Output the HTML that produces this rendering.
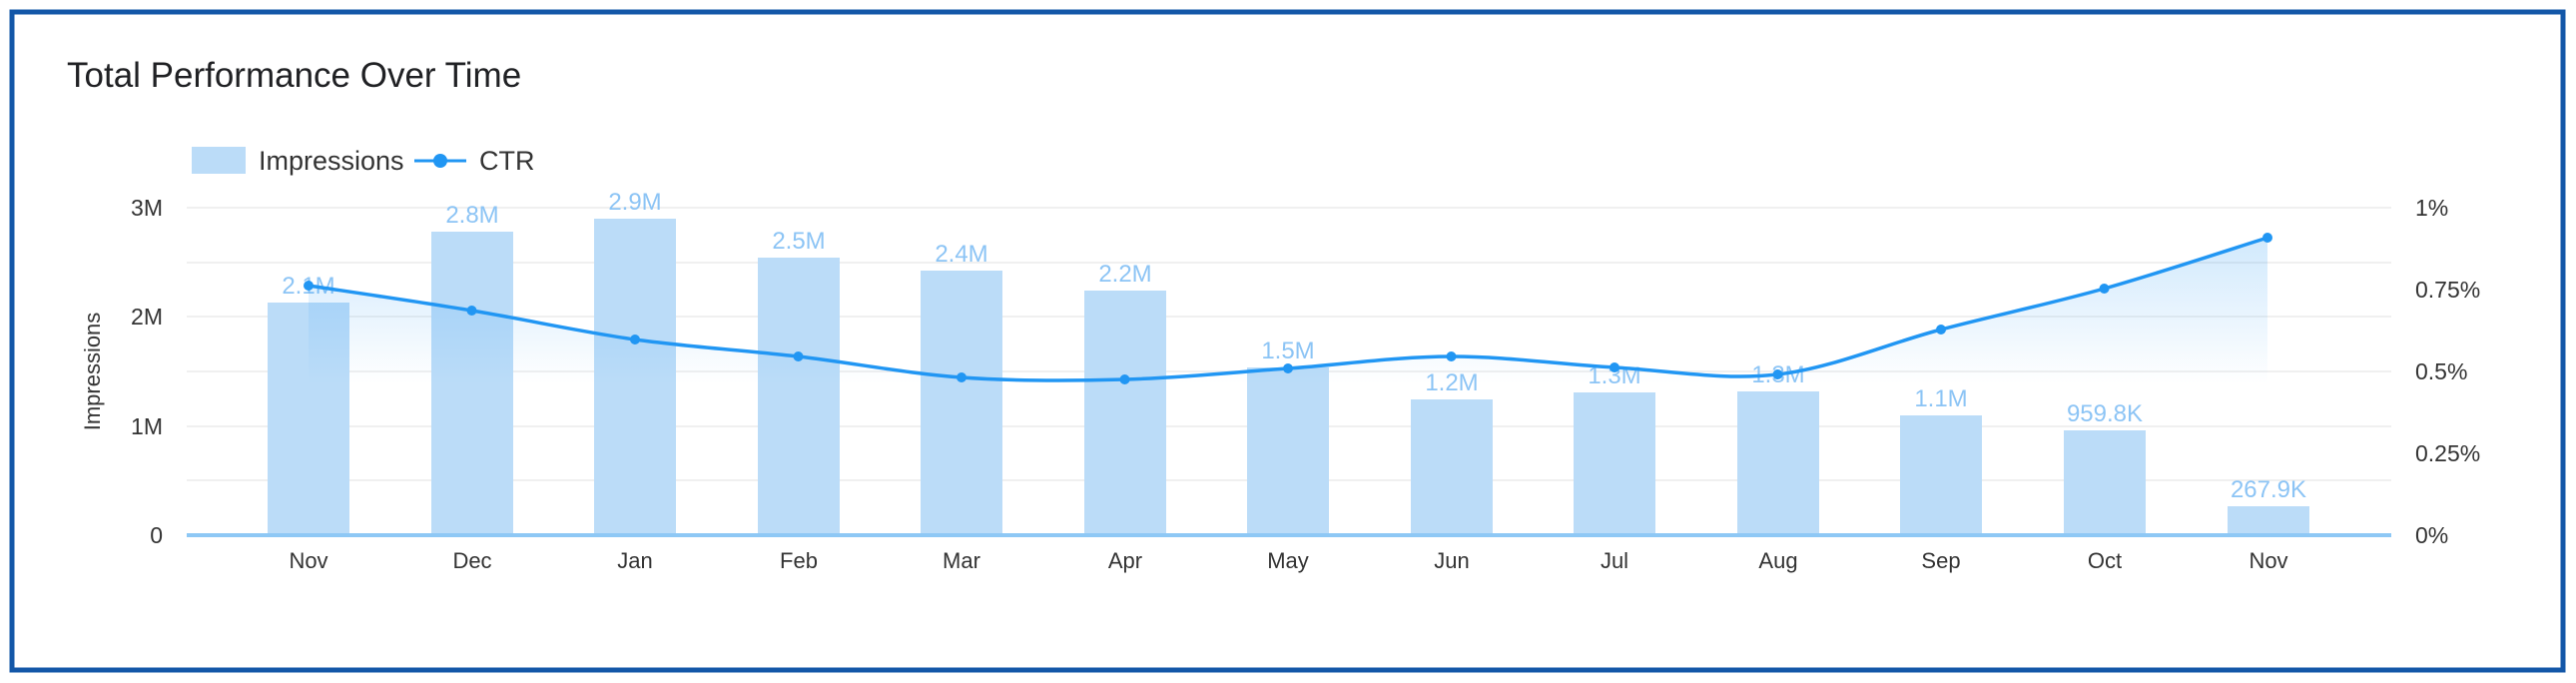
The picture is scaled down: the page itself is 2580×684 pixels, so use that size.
<!DOCTYPE html>
<html><head><meta charset="utf-8"><style>
html,body{margin:0;padding:0;background:#fff;}
svg{display:block;font-family:"Liberation Sans",Arial,sans-serif;}
</style></head><body>
<svg width="2580" height="684" viewBox="0 0 2580 684" xmlns="http://www.w3.org/2000/svg">
<defs>
<linearGradient id="g" gradientUnits="userSpaceOnUse" x1="0" y1="230" x2="0" y2="385">
<stop offset="0" stop-color="#2196f3" stop-opacity="0.22"/>
<stop offset="1" stop-color="#2196f3" stop-opacity="0"/>
</linearGradient>
</defs>
<rect x="0" y="0" width="2580" height="684" fill="#fff"/>
<rect x="12" y="12" width="2555" height="659" fill="#fff" stroke="#1357a8" stroke-width="5"/>
<text x="67" y="87" font-size="35" fill="#202124">Total Performance Over Time</text>
<!-- legend -->
<rect x="192" y="147" width="54" height="27" fill="#bbdcf8"/>
<text x="259" y="170" font-size="27" fill="#333">Impressions</text>
<line x1="415" y1="161" x2="467" y2="161" stroke="#2196f3" stroke-width="3"/>
<circle cx="441" cy="161" r="7" fill="#2196f3"/>
<text x="480" y="170" font-size="27" fill="#333">CTR</text>
<!-- grid -->
<g stroke="#f0f0f0" stroke-width="2">
<line x1="187" x2="2395" y1="208" y2="208"/>
<line x1="187" x2="2395" y1="263" y2="263"/>
<line x1="187" x2="2395" y1="317" y2="317"/>
<line x1="187" x2="2395" y1="372" y2="372"/>
<line x1="187" x2="2395" y1="427" y2="427"/>
<line x1="187" x2="2395" y1="481" y2="481"/>
</g>
<!-- left axis -->
<g font-size="23" fill="#333" text-anchor="end">
<text x="163" y="216">3M</text>
<text x="163" y="325">2M</text>
<text x="163" y="435">1M</text>
<text x="163" y="544">0</text>
</g>
<text transform="translate(100,372) rotate(-90)" font-size="22" fill="#333" text-anchor="middle">Impressions</text>
<!-- right axis -->
<g font-size="23" fill="#333">
<text x="2419" y="216">1%</text>
<text x="2419" y="298">0.75%</text>
<text x="2419" y="380">0.5%</text>
<text x="2419" y="462">0.25%</text>
<text x="2419" y="544">0%</text>
</g>
<!-- bars -->
<g fill="#bbdcf8">
<rect x="268" y="303" width="82" height="233"/>
<rect x="432" y="232" width="82" height="304"/>
<rect x="595" y="219" width="82" height="317"/>
<rect x="759" y="258" width="82" height="278"/>
<rect x="922" y="271" width="82" height="265"/>
<rect x="1086" y="291" width="82" height="245"/>
<rect x="1249" y="368" width="82" height="168"/>
<rect x="1413" y="400" width="82" height="136"/>
<rect x="1576" y="393" width="82" height="143"/>
<rect x="1740" y="392" width="82" height="144"/>
<rect x="1903" y="416" width="82" height="120"/>
<rect x="2067" y="431" width="82" height="105"/>
<rect x="2231" y="507" width="82" height="29"/>
</g>
<line x1="187" x2="2395" y1="536" y2="536" stroke="#8ec8f5" stroke-width="4"/>
<!-- bar labels -->
<g font-size="24" fill="#8cc4f5" text-anchor="middle">
<text x="309" y="294">2.1M</text>
<text x="473" y="223">2.8M</text>
<text x="636" y="210">2.9M</text>
<text x="800" y="249">2.5M</text>
<text x="963" y="262">2.4M</text>
<text x="1127" y="282">2.2M</text>
<text x="1290" y="359">1.5M</text>
<text x="1454" y="391">1.2M</text>
<text x="1617" y="384">1.3M</text>
<text x="1781" y="383">1.3M</text>
<text x="1944" y="407">1.1M</text>
<text x="2108" y="422">959.8K</text>
<text x="2272" y="498">267.9K</text>
</g>
<!-- area -->
<path id="ar" fill="url(#g)" d=""/>
<path id="ln" fill="none" stroke="#2196f3" stroke-width="3.5" d=""/>
<g id="dots" fill="#2196f3"></g>
<!-- x labels -->
<g font-size="22" fill="#333" text-anchor="middle">
<text x="309" y="569">Nov</text>
<text x="473" y="569">Dec</text>
<text x="636" y="569">Jan</text>
<text x="800" y="569">Feb</text>
<text x="963" y="569">Mar</text>
<text x="1127" y="569">Apr</text>
<text x="1290" y="569">May</text>
<text x="1454" y="569">Jun</text>
<text x="1617" y="569">Jul</text>
<text x="1781" y="569">Aug</text>
<text x="1944" y="569">Sep</text>
<text x="2108" y="569">Oct</text>
<text x="2272" y="569">Nov</text>
</g>
</svg>
<script>
var ys=[286,311,340,357,378,380,369,357,368,375,330,289,238];
var p=ys.map(function(y,i){return [309+i*163.5,y];});
var d="M"+p[0][0]+","+p[0][1];
for(var i=0;i<p.length-1;i++){
 var p0=p[i-1]||p[i],p1=p[i],p2=p[i+1],p3=p[i+2]||p2,t=6;
 d+=" C"+(p1[0]+(p2[0]-p0[0])/t)+","+(p1[1]+(p2[1]-p0[1])/t)+" "+(p2[0]-(p3[0]-p1[0])/t)+","+(p2[1]-(p3[1]-p1[1])/t)+" "+p2[0]+","+p2[1];
}
document.getElementById("ln").setAttribute("d",d);
document.getElementById("ar").setAttribute("d",d+" L"+p[12][0]+",536 L"+p[0][0]+",536 Z");
var g=document.getElementById("dots"),s="";
p.forEach(function(q){s+='<circle cx="'+q[0]+'" cy="'+q[1]+'" r="5"/>';});
g.innerHTML=s;
</script>
</body></html>
